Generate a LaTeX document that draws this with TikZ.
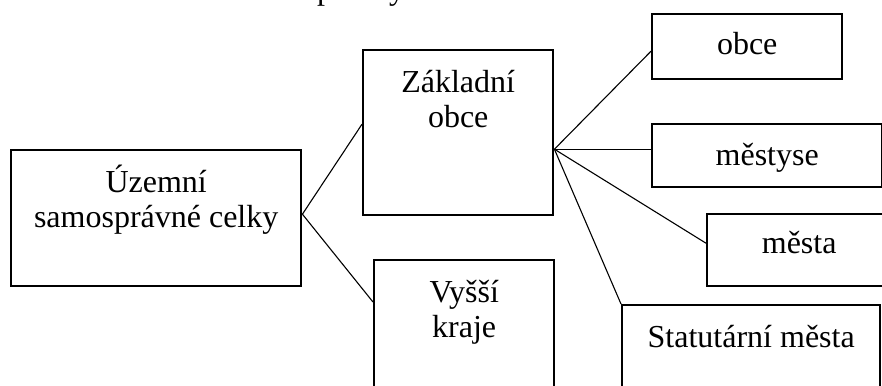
\documentclass[tikz,border=0pt]{standalone}
\usepackage{fontspec}
\setmainfont{Liberation Serif}
\begin{document}
\begin{tikzpicture}[x=1pt,y=-1pt,
  boxst/.style={draw=black, line width=2.4pt, rectangle, inner sep=0pt, anchor=north west},
  txt/.style={font=\fontsize{32}{35}\selectfont, align=center, anchor=base, inner sep=0pt},
  conn/.style={draw=black, line width=1.1pt}]
\useasboundingbox[fill=white] (0,0) rectangle (882,385);
% cut-off caption fragments at top
\node[txt] (frp) at (325,0) {p};
\node[txt] (fry) at (397,0) {y};
% boxes
\node[boxst, minimum width=290pt, minimum height=136pt] (uz) at (10,149) {};
\node[boxst, minimum width=190pt, minimum height=165pt] (zak) at (362,49) {};
\node[boxst, minimum width=180pt, minimum height=150pt] (vys) at (373,259) {};
\node[boxst, minimum width=190pt, minimum height=65pt] (obce) at (651,13) {};
\node[boxst, minimum width=230pt, minimum height=63pt] (mty) at (651,123) {};
\node[boxst, minimum width=190pt, minimum height=72pt] (mes) at (706,213) {};
\node[boxst, minimum width=258pt, minimum height=110pt] (stat) at (621,304) {};
% texts (base = baseline of the last line)
\node[txt] (tuz) at ([yshift=-78pt]uz.north) {Územní\\samosprávné celky};
\node[txt] (tzak) at ([yshift=-78pt]zak.north) {Základní\\obce};
\node[txt] (tvys) at ([yshift=-78pt]vys.north) {Vyšší\\kraje};
\node[txt] (tobce) at ([yshift=-42pt]obce.north) {obce};
\node[txt] (tmty) at ([yshift=-42pt]mty.north) {městyse};
\node[txt] (tmes) at ([xshift=-3pt,yshift=-40pt]mes.north) {města};
\node[txt] (tstat) at ([yshift=-43pt]stat.north) {Statutární města};
% connection points
\coordinate (uzE) at ([yshift=4pt]uz.east);
\coordinate (zakW) at ([yshift=8.5pt]zak.west);
\coordinate (zakE) at ([yshift=-16.5pt]zak.east);
\coordinate (vysW) at ([yshift=-43pt]vys.north west);
\coordinate (obceW) at ([yshift=-4.5pt]obce.west);
\coordinate (mtyW) at ([yshift=6.5pt]mty.west);
\coordinate (mesW) at ([yshift=7pt]mes.west);
% connectors
\draw[conn] (uzE) -- (zakW);
\draw[conn] (uzE) -- (vysW);
\draw[conn] (zakE) -- (obceW);
\draw[conn] (zakE) -- (mtyW);
\draw[conn] (zakE) -- (mesW);
\draw[conn] (zakE) -- (stat.north west);
\end{tikzpicture}
\end{document}
